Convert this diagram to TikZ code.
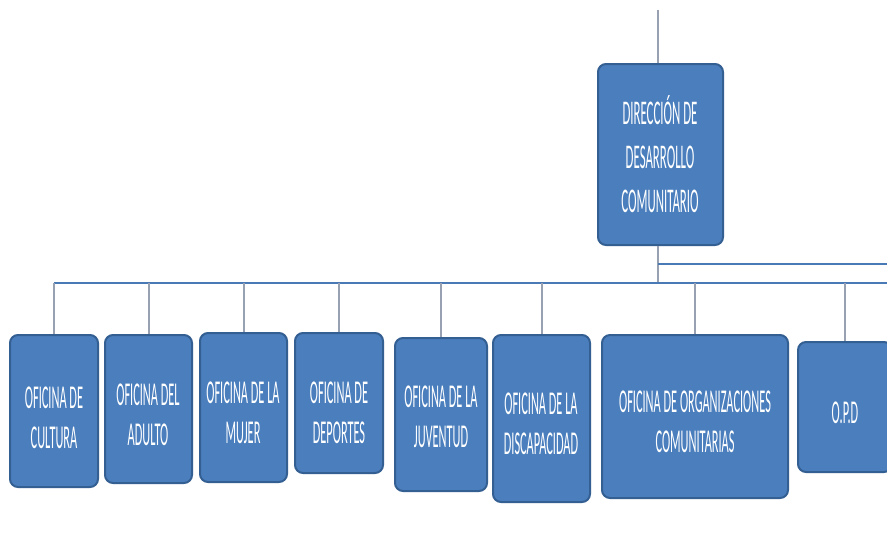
\documentclass[tikz,border=0pt]{standalone}
\usepackage{fontspec}
\newfontfamily\cond[FakeStretch=0.37]{Carlito}
\definecolor{boxfill}{HTML}{4A7EBD}
\definecolor{boxline}{HTML}{345F92}
\definecolor{busblue}{HTML}{4A7AB5}
\definecolor{dropgray}{HTML}{98A1B2}
\begin{document}
\begin{tikzpicture}[x=0.75pt,y=-0.75pt,
  orgbox/.style={draw=boxline, line width=1.5pt, fill=boxfill, rounded corners=6pt, inner sep=0pt},
  orgtxt/.style={text=white, font=\cond\fontsize{25}{30}\selectfont, align=center, inner sep=0pt},
  toptxt/.style={orgtxt, font=\cond\fontsize{26}{33}\selectfont},
  busline/.style={draw=busblue, line width=2.2pt},
  dropline/.style={draw=dropgray, line width=1.5pt}]
\useasboundingbox (0,0) rectangle (887,537);
\fill[white] (0,0) rectangle (887,537);

% boxes
\node[orgbox, minimum width=93.75pt, minimum height=135.75pt] (dir) at (660.5,154.5) {};
\node[orgbox, minimum width=66pt, minimum height=114pt] (cultura) at (54,411) {};
\node[orgbox, minimum width=65.25pt, minimum height=111pt] (adulto) at (148.5,409) {};
\node[orgbox, minimum width=65.25pt, minimum height=111.75pt] (mujer) at (243.5,407.5) {};
\node[orgbox, minimum width=66pt, minimum height=105pt] (deportes) at (339,403) {};
\node[orgbox, minimum width=69pt, minimum height=114.75pt] (juventud) at (441,414.5) {};
\node[orgbox, minimum width=72.75pt, minimum height=125.25pt] (discap) at (541.5,418.5) {};
\node[orgbox, minimum width=139.5pt, minimum height=122.25pt] (organiz) at (695,416.5) {};
\node[orgbox, minimum width=70.5pt, minimum height=97.5pt] (opd) at (845,407) {};

% texts
\node[toptxt] (tdir) at (660,154) {DIRECCIÓN DE\\DESARROLLO\\COMUNITARIO};
\node[orgtxt] (tcultura) at (54,418) {OFICINA DE\\CULTURA};
\node[orgtxt] (tadulto) at (148,415) {OFICINA DEL\\ADULTO};
\node[orgtxt] (tmujer) at (243,413) {OFICINA DE LA\\MUJER};
\node[orgtxt] (tdeportes) at (339,413) {OFICINA DE\\DEPORTES};
\node[orgtxt] (tjuventud) at (441,417) {OFICINA DE LA\\JUVENTUD};
\node[orgtxt] (tdiscap) at (541,424) {OFICINA DE LA\\DISCAPACIDAD};
\node[orgtxt] (torganiz) at (695,422) {OFICINA DE ORGANIZACIONES\\COMUNITARIAS};
\node[orgtxt] (topd) at (845,413) {O.P.D};

% connectors
\coordinate (topend) at (658,10);
\coordinate (busR) at (887,283);
\coordinate (upR) at (887,264);
\draw[dropline] (dir.north -| topend) -- (topend);
\draw[dropline] (dir.south -| topend) -- (busR -| topend);
\draw[busline] (upR -| topend) -- (upR);
\draw[busline] (cultura.north |- busR) -- (busR);
\foreach \b in {cultura,adulto,mujer,deportes,juventud,discap,organiz,opd}
  \draw[dropline] (\b.north |- busR) -- (\b.north);
\end{tikzpicture}
\end{document}
